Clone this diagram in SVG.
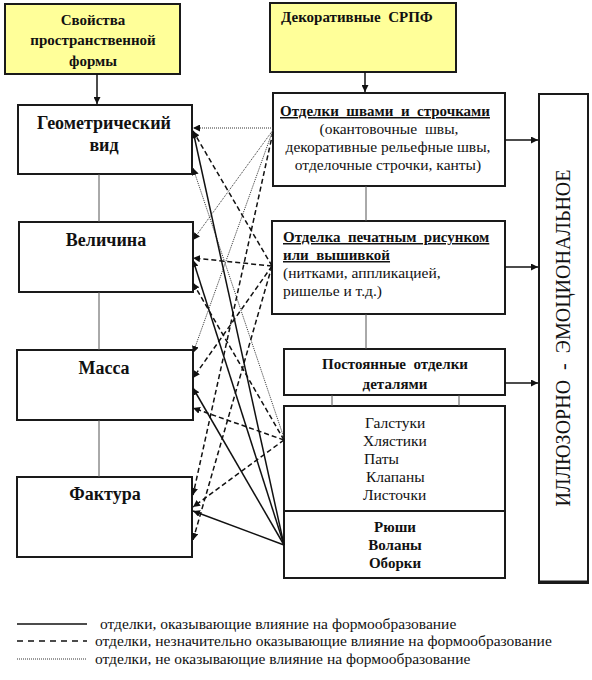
<svg xmlns="http://www.w3.org/2000/svg" width="592" height="680" viewBox="0 0 592 680" font-family="'Liberation Serif','DejaVu Serif',serif">
<style>
.box{fill:#fff;stroke:#1a1a1a;stroke-width:2}
.yel{fill:#ffff99;stroke:#1a1a1a;stroke-width:2}
.link{stroke:#555;stroke-width:1;fill:none}
text{font-family:'Liberation Serif','DejaVu Serif',serif;fill:#111}
.b{font-weight:bold}
.big{font-size:18px}
.m{font-size:15px}
.r{font-size:15.5px}
.solid{stroke:#111;stroke-width:1.5;fill:none}
.dash{stroke:#111;stroke-width:1.5;stroke-dasharray:5,3;fill:none}
.dot{stroke:#333;stroke-width:1;stroke-dasharray:1,1;fill:none}
</style>
<defs>
<marker id="ah" viewBox="0 0 10 10" refX="10" refY="5" markerWidth="7" markerHeight="7" orient="auto" markerUnits="userSpaceOnUse"><path d="M0,0 L10,5 L0,10 z" fill="#111"/></marker>
</defs>

<g id="props">
<rect class="yel" x="5" y="4" width="175" height="70"/>
<text class="b m" text-anchor="middle" x="93" y="25">Свойства</text>
<text class="b m" text-anchor="middle" x="93" y="45">пространственной</text>
<text class="b m" text-anchor="middle" x="93" y="66">формы</text>
</g>
<g id="decor">
<rect class="yel" x="270" y="3" width="186" height="69"/>
<text class="b m" x="281" y="22" xml:space="preserve">Декоративные  СРПФ</text>
</g>

<g id="geom">
<rect class="box" x="18" y="105" width="174" height="69"/>
<text class="b big" text-anchor="middle" x="104" y="129">Геометрический</text>
<text class="b big" text-anchor="middle" x="104" y="151">вид</text>
</g>
<g id="velichina">
<rect class="box" x="19" y="222" width="174" height="70"/>
<text class="b big" text-anchor="middle" x="106" y="246">Величина</text>
</g>
<g id="massa">
<rect class="box" x="17" y="350" width="176" height="70"/>
<text class="b big" text-anchor="middle" x="104" y="374">Масса</text>
</g>
<g id="faktura">
<rect class="box" x="17" y="477" width="175" height="80"/>
<text class="b big" text-anchor="middle" x="105" y="500">Фактура</text>
</g>

<g id="shvy">
<rect class="box" x="273" y="93" width="232" height="93"/>
<text class="b m" text-anchor="middle" x="385" y="116" text-decoration="underline" xml:space="preserve">Отделки  швами  и  строчками</text>
<text class="r" text-anchor="middle" x="389" y="134" xml:space="preserve">(окантовочные  швы,</text>
<text class="r" text-anchor="middle" x="388" y="152">декоративные рельефные швы,</text>
<text class="r" text-anchor="middle" x="388" y="170">отделочные строчки, канты)</text>
</g>
<g id="pechat">
<rect class="box" x="272" y="221" width="233" height="93"/>
<text class="b m" x="283" y="242" text-decoration="underline" xml:space="preserve">Отделка  печатным  рисунком</text>
<text class="b m" x="283" y="260" text-decoration="underline" xml:space="preserve">или  вышивкой</text>
<text class="r" x="283" y="278">(нитками, аппликацией,</text>
<text class="r" x="283" y="296">ришелье и т.д.)</text>
</g>
<g id="postoyannye">
<rect class="box" x="284" y="349" width="221" height="46"/>
<text class="b m" text-anchor="middle" x="395" y="369" xml:space="preserve">Постоянные  отделки</text>
<text class="b m" text-anchor="middle" x="395" y="389">деталями</text>
</g>
<g id="galstuki">
<rect class="box" x="284" y="406" width="221" height="105"/>
<text class="r" x="365" y="428">Галстуки</text>
<text class="r" x="363" y="446">Хлястики</text>
<text class="r" x="364" y="464">Паты</text>
<text class="r" x="366" y="482">Клапаны</text>
<text class="r" x="363" y="500">Листочки</text>
</g>
<g id="ryushi">
<rect class="box" x="284" y="511" width="221" height="67"/>
<text class="b m" text-anchor="middle" x="395" y="532">Рюши</text>
<text class="b m" text-anchor="middle" x="395" y="550">Воланы</text>
<text class="b m" text-anchor="middle" x="395" y="568">Оборки</text>
</g>
<g id="illuzorno">
<rect class="box" x="539" y="94" width="49" height="489"/>
<line x1="539" y1="582" x2="588" y2="582" stroke="#1a1a1a" stroke-width="3"/>
<text font-size="20" text-anchor="middle" transform="translate(570,338) rotate(-90)" textLength="337" lengthAdjust="spacingAndGlyphs" xml:space="preserve">ИЛЛЮЗОРНО  -  ЭМОЦИОНАЛЬНОЕ</text>
</g>

<g id="connectors">
<line class="link" x1="99" y1="174" x2="99" y2="222"/>
<line class="link" x1="99" y1="292" x2="99" y2="350"/>
<line class="link" x1="99" y1="420" x2="99" y2="477"/>
<line class="link" x1="366" y1="186" x2="366" y2="221"/>
<line class="link" x1="366" y1="314" x2="366" y2="349"/>
<line class="link" x1="332" y1="395" x2="332" y2="406"/>
<line class="link" x1="459" y1="395" x2="459" y2="406"/>

<line class="solid" x1="97" y1="74" x2="97" y2="104" marker-end="url(#ah)"/>
<line class="solid" x1="365" y1="72" x2="365" y2="92" marker-end="url(#ah)"/>
<line class="solid" x1="505" y1="140" x2="538" y2="140" marker-end="url(#ah)"/>
<line class="solid" x1="505" y1="267" x2="538" y2="267" marker-end="url(#ah)"/>
<line class="solid" x1="505" y1="383" x2="538" y2="383" marker-end="url(#ah)"/>

<line class="dot" x1="273" y1="128" x2="193" y2="128" marker-end="url(#ah)"/>
<line class="dot" x1="273" y1="130" x2="193" y2="240" marker-end="url(#ah)"/>
<line class="dot" x1="273" y1="130" x2="193" y2="353" marker-end="url(#ah)"/>
<line class="dot" x1="284" y1="438" x2="193" y2="168" marker-end="url(#ah)"/>

<line class="dash" x1="272" y1="266" x2="193" y2="131" marker-end="url(#ah)"/>
<line class="dash" x1="272" y1="266" x2="193" y2="258" marker-end="url(#ah)"/>
<line class="dash" x1="272" y1="266" x2="193" y2="378" marker-end="url(#ah)"/>
<line class="dash" x1="272" y1="266" x2="193" y2="540" marker-end="url(#ah)"/>
<line class="dash" x1="273" y1="132" x2="193" y2="495" marker-end="url(#ah)"/>
<line class="dash" x1="284" y1="440" x2="193" y2="283" marker-end="url(#ah)"/>
<line class="dash" x1="284" y1="440" x2="193" y2="408" marker-end="url(#ah)"/>
<line class="dash" x1="284" y1="440" x2="193" y2="507" marker-end="url(#ah)"/>

<line class="solid" x1="284" y1="545" x2="193" y2="131" marker-end="url(#ah)"/>
<line class="solid" x1="284" y1="545" x2="193" y2="260" marker-end="url(#ah)"/>
<line class="solid" x1="284" y1="545" x2="193" y2="388" marker-end="url(#ah)"/>
<line class="solid" x1="284" y1="545" x2="193" y2="511" marker-end="url(#ah)"/>
</g>

<g id="legend">
<line class="solid" x1="17" y1="624" x2="87" y2="624"/>
<line stroke="#111" stroke-width="1.5" stroke-dasharray="6,5" x1="17" y1="641" x2="87" y2="641"/>
<line class="dot" x1="17" y1="659" x2="87" y2="659"/>
<text class="r" x="100" y="629">отделки, оказывающие влияние на формообразование</text>
<text class="r" x="95" y="646">отделки, незначительно оказывающие влияние на формообразование</text>
<text class="r" x="95" y="664">отделки, не оказывающие влияние на формообразование</text>
</g>
</svg>
